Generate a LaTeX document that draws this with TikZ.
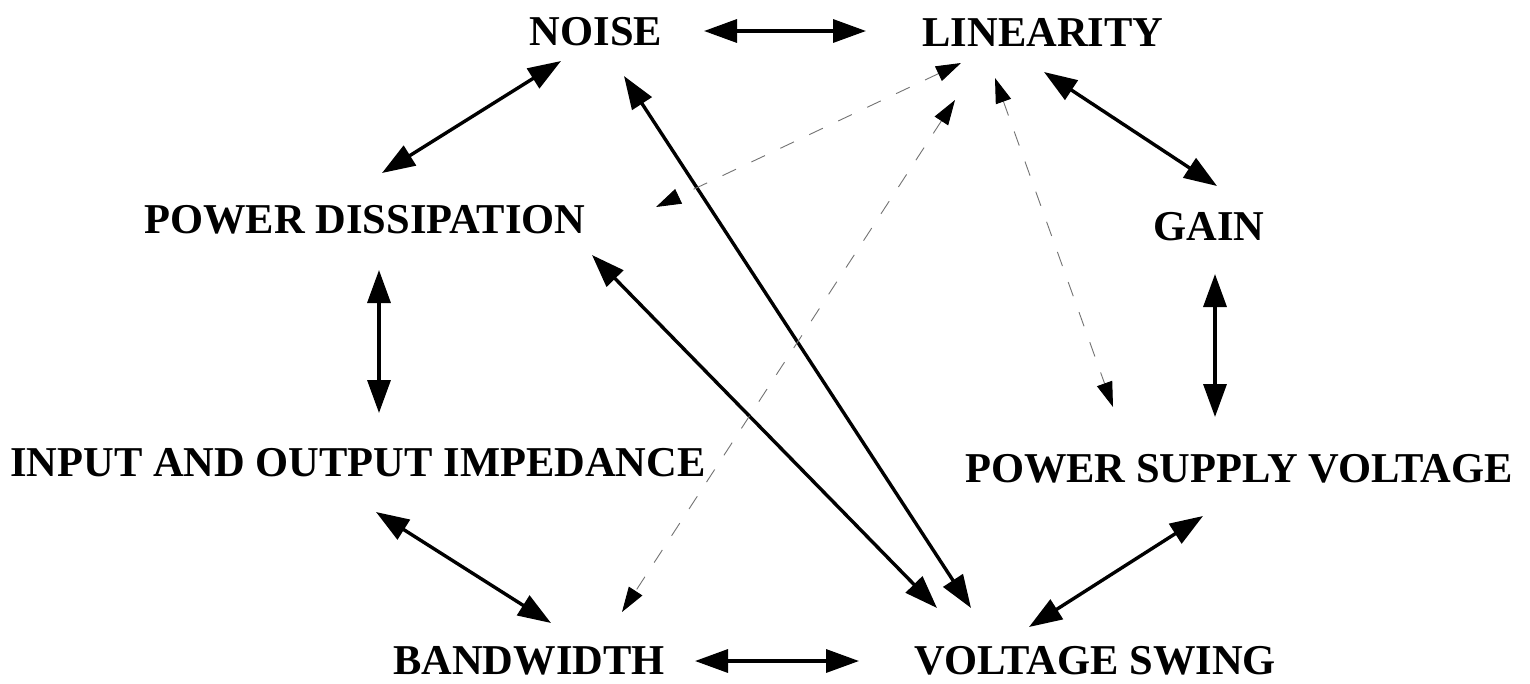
\documentclass[tikz,border=0pt]{standalone}
\usepackage{fontspec}
\setmainfont{Liberation Serif}
\usetikzlibrary{arrows.meta}
\tikzset{
  lbl/.style={inner sep=0pt, font=\fontsize{42.5}{48}\selectfont\bfseries},
  solidarrow/.style={line width=3.4pt, {Triangle[length=33pt,width=23pt]}-{Triangle[length=33pt,width=23pt]}},
  dasharrow/.style={line width=0.9pt, draw=black!55, dash pattern=on 15pt off 17pt,
    {Triangle[length=25pt,width=16pt,color=black]}-{Triangle[length=25pt,width=16pt,color=black]}}
}
\begin{document}
\begin{tikzpicture}[x=1pt,y=-1pt]
\useasboundingbox[fill=white] (0,0) rectangle (1530,683);
% labels
\node[lbl] (noise) at (596,32) {NOISE};
\node[lbl] (lin) at (1043,32) {LINEARITY};
\node[lbl] (pd) at (365,220) {POWER DISSIPATION};
\node[lbl] (gain) at (1209,227) {GAIN};
\node[lbl] (ioi) at (358,463) {INPUT AND OUTPUT IMPEDANCE};
\node[lbl] (psv) at (1239,469) {POWER SUPPLY VOLTAGE};
\node[lbl] (bw) at (529,661) {BANDWIDTH};
\node[lbl] (vs) at (1095,661) {VOLTAGE SWING};
% connector end points
\coordinate (noise-lin) at (704,31);
\coordinate (lin-noise) at (866,31);
\coordinate (noise-pd) at (561,61);
\coordinate (pd-noise) at (382,173);
\coordinate (lin-gain) at (1044,72);
\coordinate (gain-lin) at (1217,186);
\coordinate (pd-ioi) at (379,270);
\coordinate (ioi-pd) at (379,413);
\coordinate (gain-psv) at (1215,274);
\coordinate (psv-gain) at (1215,417);
\coordinate (ioi-bw) at (376,512);
\coordinate (bw-ioi) at (551,623);
\coordinate (bw-vs) at (695,661);
\coordinate (vs-bw) at (859,661);
\coordinate (psv-vs) at (1203,516);
\coordinate (vs-psv) at (1029,627);
\coordinate (pd-vs) at (592,255);
\coordinate (vs-pd) at (937,608);
\coordinate (noise-vs) at (624,76);
\coordinate (vs-noise) at (971,608);
\coordinate (lin-pd) at (961,63);
\coordinate (pd-lin) at (656,207);
\coordinate (lin-bw) at (955,100);
\coordinate (bw-lin) at (622,612);
\coordinate (lin-psv) at (995,78);
\coordinate (psv-lin) at (1113,407);
% solid connectors
\draw[solidarrow] (noise-lin) -- (lin-noise);
\draw[solidarrow] (noise-pd) -- (pd-noise);
\draw[solidarrow] (lin-gain) -- (gain-lin);
\draw[solidarrow] (pd-ioi) -- (ioi-pd);
\draw[solidarrow] (gain-psv) -- (psv-gain);
\draw[solidarrow] (ioi-bw) -- (bw-ioi);
\draw[solidarrow] (bw-vs) -- (vs-bw);
\draw[solidarrow] (psv-vs) -- (vs-psv);
\draw[solidarrow] (pd-vs) -- (vs-pd);
\draw[solidarrow] (noise-vs) -- (vs-noise);
% dashed connectors
\draw[dasharrow] (lin-pd) -- (pd-lin);
\draw[dasharrow] (lin-bw) -- (bw-lin);
\draw[dasharrow] (lin-psv) -- (psv-lin);
\end{tikzpicture}
\end{document}
